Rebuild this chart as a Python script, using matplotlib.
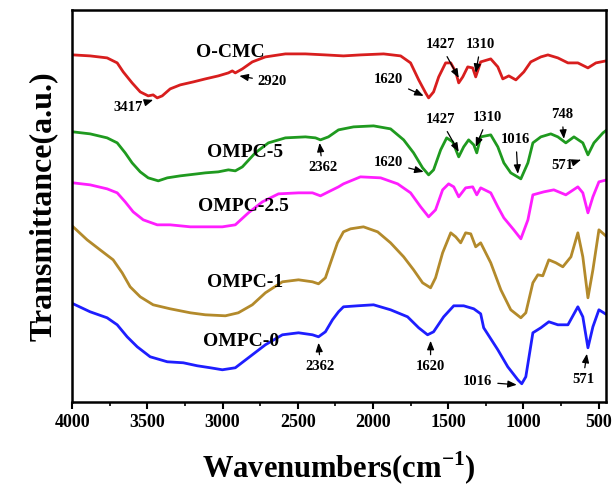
import numpy as np
import matplotlib
matplotlib.use("Agg")
import matplotlib.pyplot as plt
from matplotlib.ticker import MultipleLocator

plt.rcParams['font.family'] = ['Liberation Serif', 'DejaVu Serif']
plt.rcParams['font.weight'] = 'bold'
plt.rcParams['mathtext.fontset'] = 'custom'
plt.rcParams['mathtext.rm'] = 'Liberation Serif'
plt.rcParams['mathtext.bf'] = 'Liberation Serif:bold'

# Espectros FTIR (unidades arbitrarias)
wn_ocmc = [3993, 3880, 3767, 3700, 3660, 3601, 3547, 3494, 3461, 3434, 3401, 3348, 3281, 3194, 3114,
           3028, 2961, 2935, 2915, 2868, 2802, 2715, 2582, 2449, 2316, 2196, 2083, 1929, 1816, 1750,
           1696, 1650, 1630, 1597, 1563, 1517, 1483, 1450, 1430, 1403, 1370, 1337, 1317, 1284, 1217,
           1170, 1137, 1097, 1050, 997, 951, 884, 837, 771, 704, 638, 571, 518, 451]
t_ocmc = [345, 344, 342, 337, 328, 317, 308, 304, 305, 302, 304, 311, 315, 318, 321,
          324, 327, 329, 327, 331, 338, 343, 346, 346, 345, 344, 345, 346, 344, 337,
          320, 307, 302, 308, 323, 337, 337, 328, 317, 323, 333, 332, 323, 338, 341,
          333, 321, 324, 320, 328, 338, 343, 345, 342, 337, 337, 332, 337, 339]

wn_5 = [3993, 3880, 3767, 3700, 3647, 3601, 3547, 3494, 3427, 3367, 3281, 3168, 3114, 3028, 2961,
        2915, 2868, 2782, 2695, 2582, 2449, 2382, 2349, 2296, 2229, 2129, 1996, 1883, 1796, 1730,
        1670, 1630, 1597, 1550, 1510, 1470, 1430, 1397, 1364, 1330, 1310, 1284, 1217, 1170, 1130,
        1084, 1017, 970, 937, 884, 818, 771, 718, 664, 605, 571, 531, 471, 445]
t_5 = [268, 266, 262, 257, 247, 237, 228, 222, 219, 222, 224, 226, 227, 228, 230,
       229, 233, 247, 257, 262, 263, 262, 260, 263, 270, 273, 274, 271, 260, 247,
       232, 225, 230, 250, 262, 258, 243, 253, 260, 255, 247, 263, 265, 253, 237,
       227, 221, 237, 257, 263, 266, 263, 257, 263, 257, 245, 257, 267, 270]

wn_25 = [3993, 3880, 3767, 3700, 3647, 3594, 3527, 3434, 3348, 3214, 3114, 3001, 2915, 2828, 2735,
         2628, 2495, 2402, 2349, 2296, 2229, 2196, 2083, 1949, 1836, 1750, 1683, 1630, 1584, 1537,
         1497, 1463, 1430, 1384, 1337, 1310, 1284, 1217, 1170, 1130, 1064, 1017, 970, 937, 864,
         798, 718, 638, 605, 571, 538, 498, 445]
t_25 = [217, 215, 211, 207, 198, 188, 180, 175, 175, 173, 173, 173, 175, 187, 198,
        206, 207, 207, 204, 208, 213, 216, 223, 222, 216, 207, 193, 183, 190, 210,
        216, 213, 203, 212, 213, 205, 212, 207, 193, 182, 170, 161, 180, 205, 208,
        210, 205, 213, 207, 187, 203, 218, 220]

wn_1 = [3993, 3900, 3814, 3727, 3667, 3614, 3547, 3461, 3348, 3214, 3114, 2981, 2895, 2802, 2715,
        2602, 2495, 2402, 2362, 2316, 2282, 2236, 2196, 2149, 2063, 1969, 1883, 1796, 1730, 1670,
        1617, 1584, 1537, 1483, 1450, 1417, 1384, 1350, 1317, 1284, 1217, 1150, 1084, 1017, 984,
        937, 904, 871, 831, 784, 738, 684, 638, 605, 571, 538, 498, 445]
t_1 = [173, 160, 150, 140, 127, 113, 103, 95, 91, 87, 85, 84, 87, 95, 107,
       118, 120, 118, 116, 122, 137, 157, 168, 171, 173, 168, 157, 143, 130, 117,
       112, 122, 147, 167, 163, 157, 167, 166, 153, 157, 137, 110, 90, 82, 87,
       117, 125, 124, 140, 137, 133, 143, 167, 143, 102, 130, 170, 163]

wn_0 = [3993, 3880, 3767, 3700, 3634, 3567, 3481, 3367, 3261, 3168, 3081, 3001, 2915, 2828, 2715,
        2602, 2495, 2402, 2362, 2316, 2269, 2229, 2196, 2102, 1996, 1883, 1770, 1696, 1637, 1597,
        1530, 1463, 1397, 1330, 1284, 1264, 1170, 1104, 1037, 1011, 984, 937, 884, 831, 771,
        704, 638, 605, 571, 538, 498, 445]
t_0 = [96, 88, 82, 75, 63, 53, 43, 38, 37, 34, 32, 30, 32, 42, 55,
       65, 67, 65, 63, 68, 80, 88, 93, 94, 95, 90, 83, 72, 65, 68,
       83, 94, 94, 91, 86, 72, 50, 33, 20, 16, 23, 67, 72, 78, 75,
       75, 93, 83, 52, 73, 90, 85]

series = [
    ("O-CMC", wn_ocmc, t_ocmc, "#d81e1e", (2950, 347)),
    ("OMPC-5", wn_5, t_5, "#1f9a1f", (2850, 247)),
    ("OMPC-2.5", wn_25, t_25, "#ff1eff", (2860, 193)),
    ("OMPC-1", wn_1, t_1, "#b38a2b", (2850, 117)),
    ("OMPC-0", wn_0, t_0, "#1e1eff", (2880, 58)),
]

# (etiqueta, punta x, punta y, texto x, texto y)
peaks = [
    ("3417", 3461, 300, 3627, 292), ("2920", 2888, 324, 2668, 318),
    ("1620", 1663, 304, 1896, 320), ("1427", 1430, 322, 1550, 355),
    ("1310", 1317, 327, 1284, 355),
    ("2362", 2355, 257, 2335, 232), ("1620", 1663, 228, 1896, 237),
    ("1427", 1430, 248, 1550, 280), ("1310", 1317, 253, 1237, 282),
    ("1016", 1037, 226, 1050, 260), ("748", 731, 261, 744, 285),
    ("571", 618, 240, 738, 234),
    ("2362", 2362, 57, 2349, 33), ("1620", 1617, 59, 1617, 33),
    ("1016", 1044, 15, 1304, 18), ("571", 578, 46, 604, 20),
]

fig = plt.figure(figsize=(6.16, 4.96), dpi=100)
ax = fig.add_axes([0.117, 0.19, 0.867, 0.79])

for name, x, y, col, lpos in series:
    ax.plot(x, y, color=col, lw=2.0, solid_joinstyle='round')
    ax.text(lpos[0], lpos[1], name, ha='center', va='center', fontsize=14, fontweight='bold')

for lab, px, py, tx, ty in peaks:
    ax.annotate(lab, xy=(px, py), xytext=(tx, ty), ha='center', va='center',
                fontsize=10.5, fontweight='bold',
                arrowprops=dict(arrowstyle='-|>,head_length=0.5,head_width=0.2', color='black',
                                lw=0.9, shrinkA=2, shrinkB=0))

ax.set_xlim(4000, 450)
ax.set_ylim(-2, 390)
ax.xaxis.set_major_locator(MultipleLocator(500))
ax.xaxis.set_minor_locator(MultipleLocator(250))
ax.tick_params(axis='x', which='major', direction='out', length=5, width=1.5, labelsize=13)
ax.tick_params(axis='x', which='minor', direction='out', length=3, width=1.2)
ax.set_yticks([])
for lbl in ax.get_xticklabels():
    lbl.set_fontweight('bold')
for s in ax.spines.values():
    s.set_linewidth(1.8)

ax.set_xlabel("Wavenumbers(cm$^{\\mathbf{-1}}$)", fontsize=22, fontweight='bold', labelpad=14)
ax.set_ylabel("Transmittance(a.u.)", fontsize=23, fontweight='bold', labelpad=10)

fig.savefig("out.png", dpi=100)
